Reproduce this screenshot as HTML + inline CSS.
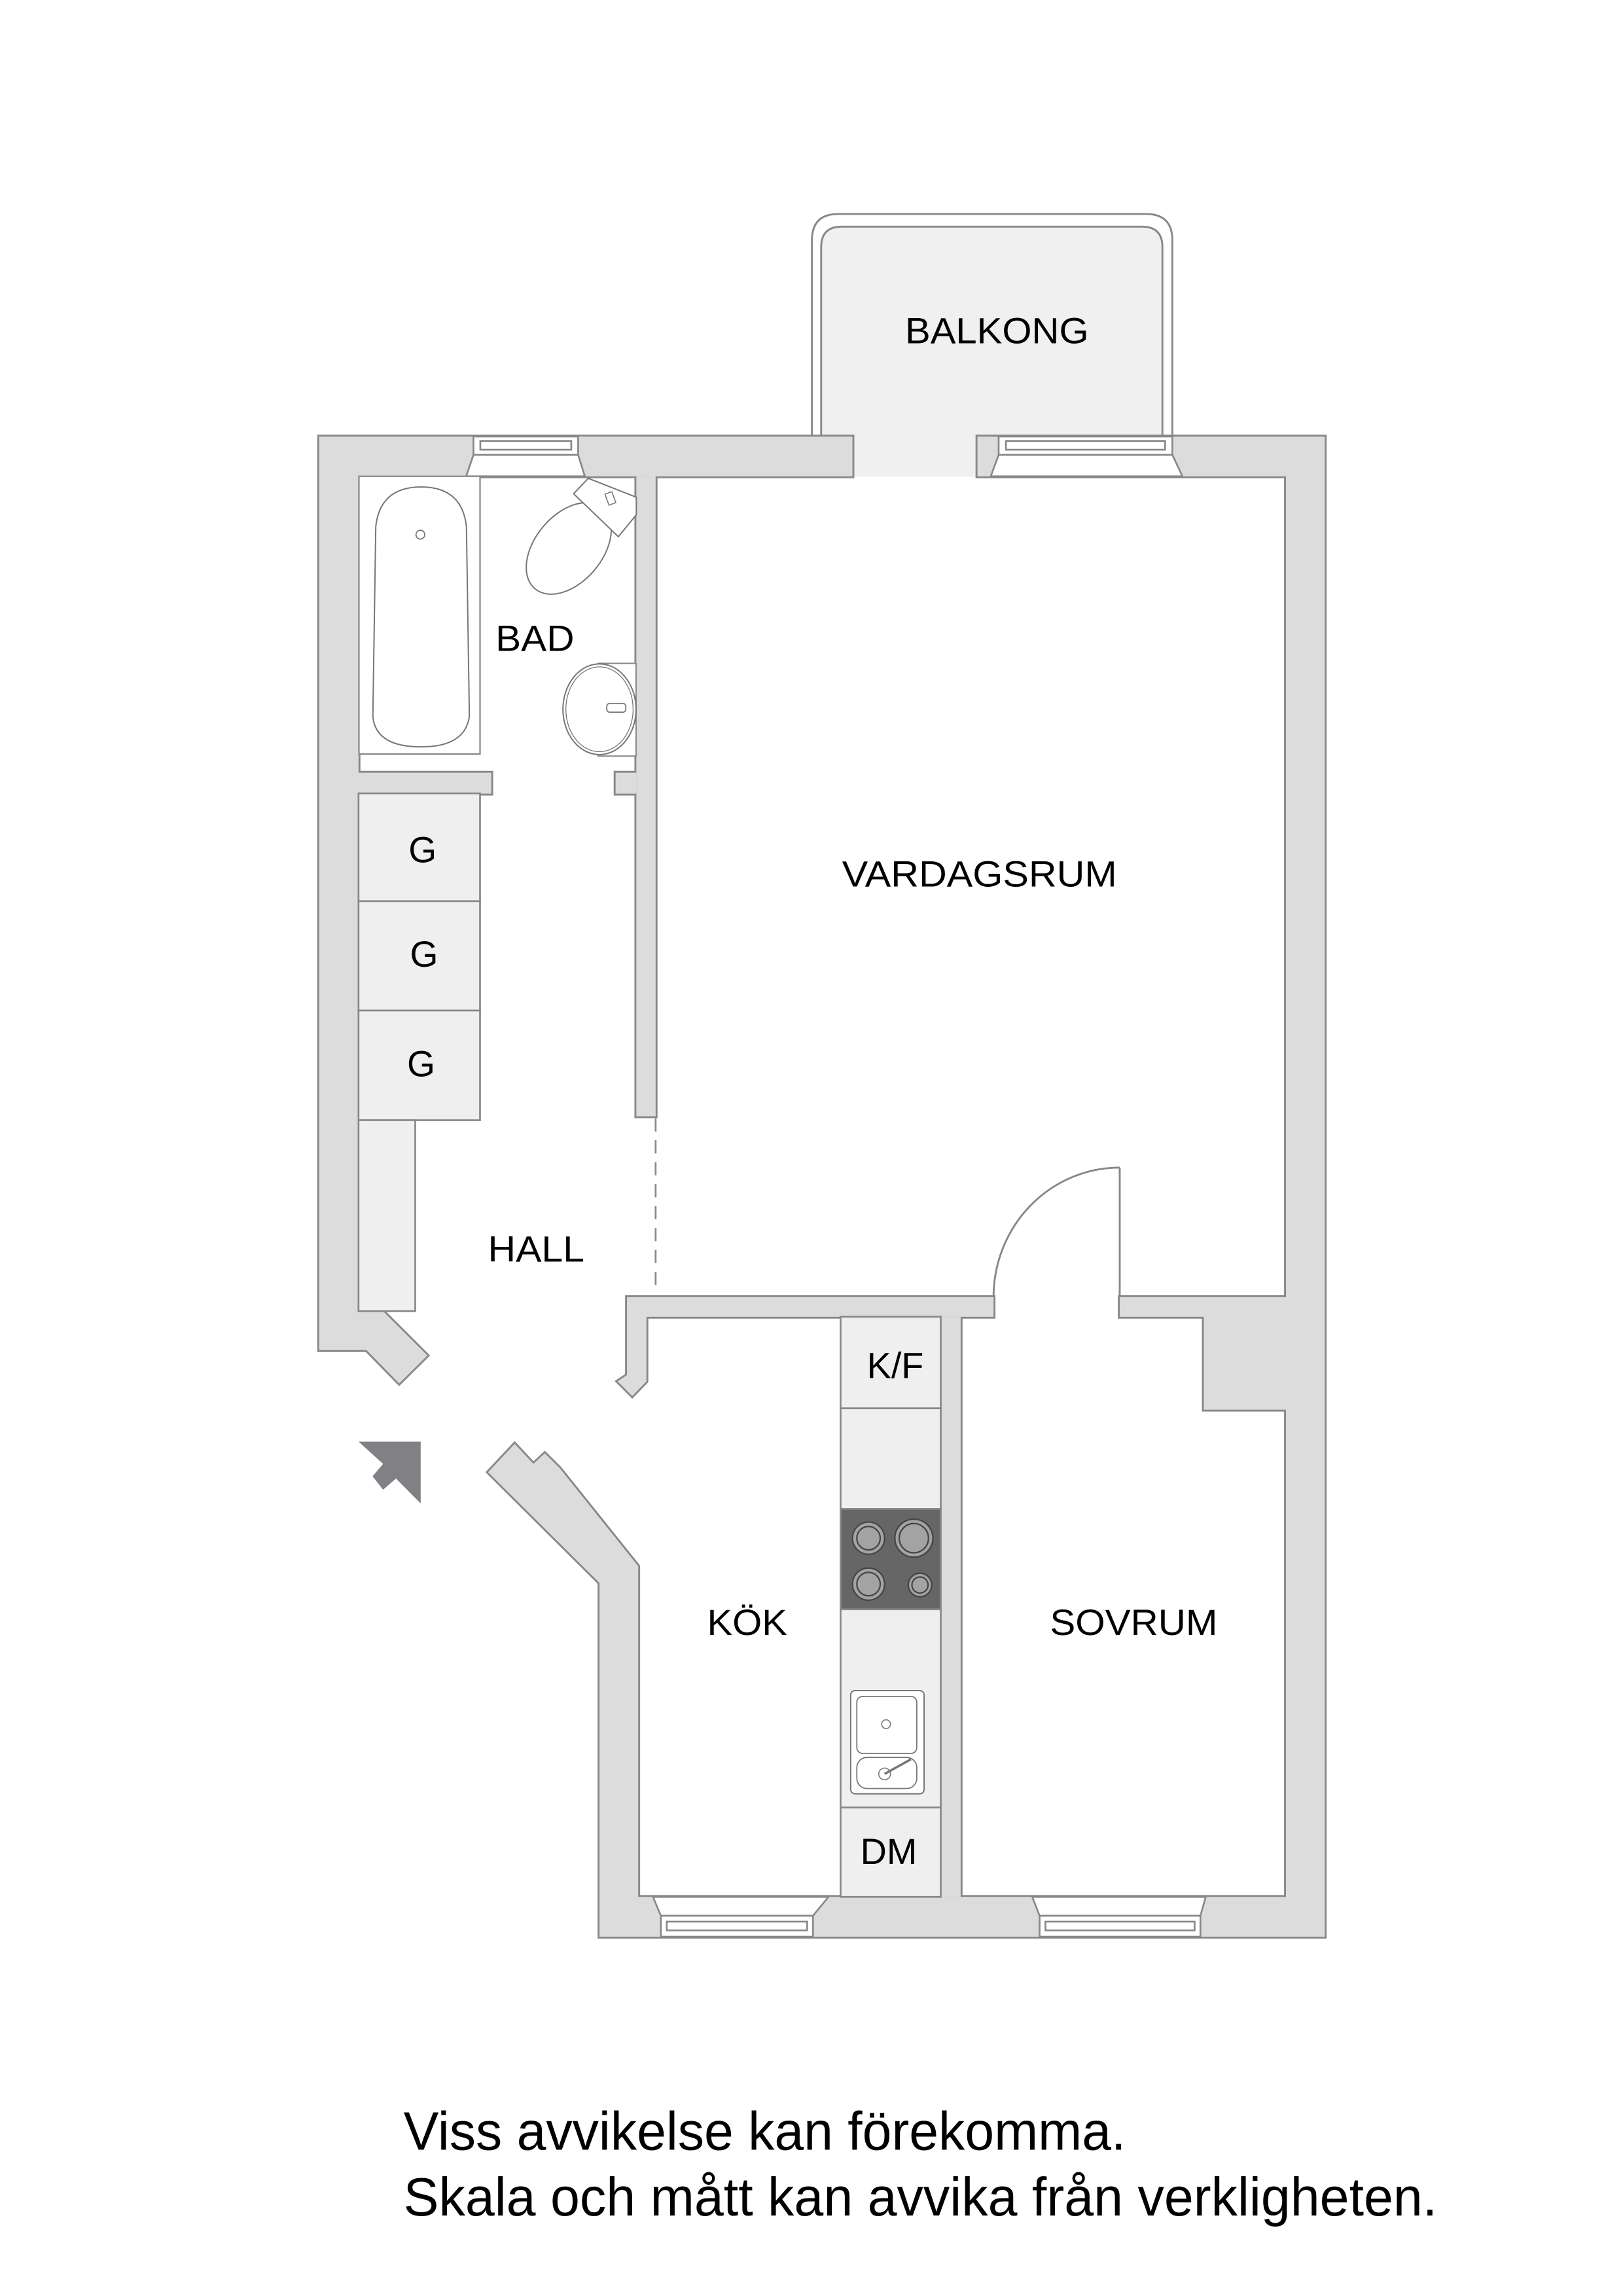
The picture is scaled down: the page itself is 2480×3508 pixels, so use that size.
<!DOCTYPE html>
<html><head><meta charset="utf-8"><style>html,body{margin:0;padding:0;background:#fff}svg{display:block}</style></head>
<body>
<svg width="2480" height="3508" viewBox="0 0 1110 1570" preserveAspectRatio="none" xmlns="http://www.w3.org/2000/svg" font-family="Liberation Sans, Arial, sans-serif">
<rect width="1110" height="1570" fill="#fff"/>
<!-- balcony -->
<path d="M555.3,298.5 V164.3 Q555.3,146.3 573.3,146.3 H783.8 Q801.8,146.3 801.8,164.3 V298.5" fill="#fff" stroke="#888" stroke-width="1.3"/>
<path d="M561.6,298.5 V169 Q561.6,155 575.6,155 H781 Q795,155 795,169 V298.5 Z" fill="#f0f0f0" stroke="#888" stroke-width="1.3"/>
<rect x="583" y="297" width="86" height="29" fill="#f0f0f0"/>
<g id="walls">
<g fill="#dcdcdc" stroke="#888" stroke-width="2.6" stroke-linejoin="miter">
<polygon points="218.3,298.5 583,298.5 583,325.7 245.2,325.7 245.2,896.6 262,896.6 292.3,926.9 273,946 250.7,923.2 218.3,923.2"/>
<polygon points="668.5,298.5 906,298.5 906,1324.3 410,1324.3 410,1082.4 333.8,1006.7 352,987.3 364.8,1001 372.6,993.8 382.7,1003.8 436.5,1071 436.5,1297.1 879.5,1297.1 879.5,325.7 668.5,325.7"/>
<rect x="435.2" y="325.7" width="13.2" height="437.6"/>
<rect x="421" y="528.4" width="14.2" height="14.3"/>
<rect x="245" y="528.4" width="91" height="14.3"/>
<polygon points="428.8,887 679.5,887 679.5,900.4 442.1,900.4 442.1,944.6 432.4,954.6 422.4,944.6 428.8,940.3"/>
<polygon points="765.8,887 879.5,887 879.5,963.9 823.3,963.9 823.3,900.4 765.8,900.4"/>
<rect x="643.4" y="900.4" width="13.6" height="396.7"/>
</g>
<g fill="#dcdcdc" stroke="none">
<polygon points="218.3,298.5 583,298.5 583,325.7 245.2,325.7 245.2,896.6 262,896.6 292.3,926.9 273,946 250.7,923.2 218.3,923.2"/>
<polygon points="668.5,298.5 906,298.5 906,1324.3 410,1324.3 410,1082.4 333.8,1006.7 352,987.3 364.8,1001 372.6,993.8 382.7,1003.8 436.5,1071 436.5,1297.1 879.5,1297.1 879.5,325.7 668.5,325.7"/>
<rect x="435.2" y="325.7" width="13.2" height="437.6"/>
<rect x="421" y="528.4" width="14.2" height="14.3"/>
<rect x="245" y="528.4" width="91" height="14.3"/>
<polygon points="428.8,887 679.5,887 679.5,900.4 442.1,900.4 442.1,944.6 432.4,954.6 422.4,944.6 428.8,940.3"/>
<polygon points="765.8,887 879.5,887 879.5,963.9 823.3,963.9 823.3,900.4 765.8,900.4"/>
<rect x="643.4" y="900.4" width="13.6" height="396.7"/>
</g>
</g>
<!-- windows -->
<g fill="#fff" stroke="#888" stroke-width="1.2">
<polygon points="323.8,311 395.4,311 400,325.7 318.8,325.7"/>
<rect x="323.8" y="298.5" width="71.6" height="12.5"/>
<rect x="328.5" y="301.5" width="62.2" height="6"/>
<polygon points="683,311 801.8,311 808.7,325.7 677.6,325.7"/>
<rect x="683" y="298.5" width="118.8" height="12.5"/>
<rect x="688" y="301.5" width="108.8" height="6"/>
<polygon points="446.6,1297.1 566.6,1297.1 556,1310 452,1310"/>
<rect x="452" y="1310" width="104" height="14.3"/>
<rect x="456" y="1314" width="96" height="6"/>
<polygon points="706,1297.1 824.6,1297.1 821,1310 711,1310"/>
<rect x="711" y="1310" width="110" height="14.3"/>
<rect x="715" y="1314" width="102" height="6"/>
</g>
<!-- door -->
<line x1="765.8" y1="798.4" x2="765.8" y2="887" stroke="#888" stroke-width="1.3"/>
<path d="M765.8,798.4 A86.3 88.6 0 0 0 679.5,887" fill="none" stroke="#888" stroke-width="1.3"/>
<line x1="448.4" y1="764.7" x2="448.4" y2="880.4" stroke="#888" stroke-width="1.2" stroke-dasharray="9 6"/>
<!-- bathroom -->
<rect x="245.5" y="325.7" width="82.8" height="189.9" fill="#fff" stroke="#888" stroke-width="1"/>
<path d="M255,490 L257,360 Q260,333 288,333 Q316,333 319,360 L321,490 Q318,510.7 288,510.7 Q257,510.7 255,490 Z" fill="#fff" stroke="#777" stroke-width="0.9"/>
<circle cx="287.5" cy="365.6" r="3" fill="none" stroke="#777" stroke-width="0.8"/>
<ellipse cx="389" cy="375" rx="23" ry="36" transform="rotate(40 389 375)" fill="#fff" stroke="#777" stroke-width="0.9"/>
<polygon points="402.3,327.1 435.2,340 435.2,352 422.9,367 392.3,337.6" fill="#fff" stroke="#777" stroke-width="0.9"/>
<rect x="415" y="337" width="5" height="8" fill="none" stroke="#777" stroke-width="0.7" transform="rotate(-20 417 341)"/>
<rect x="409" y="453.6" width="26" height="63.4" fill="#fff" stroke="#888" stroke-width="0.9"/>
<ellipse cx="410" cy="485" rx="25" ry="31" fill="#fff" stroke="#777" stroke-width="0.9"/>
<ellipse cx="410" cy="485" rx="23" ry="29" fill="none" stroke="#777" stroke-width="0.6"/>
<rect x="415" y="481" width="13" height="6" rx="2" fill="#fff" stroke="#777" stroke-width="0.8"/>
<!-- closets -->
<g fill="#efefef" stroke="#888" stroke-width="1.2">
<rect x="245.2" y="542.5" width="83.1" height="73.7"/>
<rect x="245.2" y="616.2" width="83.1" height="74.8"/>
<rect x="245.2" y="691" width="83.1" height="75"/>
<rect x="245.2" y="766" width="38.8" height="130.6"/>
<rect x="574.9" y="900.4" width="68.5" height="62.6"/>
<rect x="574.9" y="963" width="68.5" height="68.8"/>
<rect x="574.9" y="1100.4" width="68.5" height="135.6"/>
<rect x="574.9" y="1236" width="68.5" height="61.1"/>
</g>
<rect x="574.9" y="1031.8" width="68.5" height="68.6" fill="#666" stroke="#888" stroke-width="1.2"/>
<g fill="#a3a3a3" stroke="#444" stroke-width="1">
<circle cx="594" cy="1051.8" r="11"/><circle cx="594" cy="1051.8" r="8" fill="none"/>
<circle cx="625" cy="1051.8" r="13"/><circle cx="625" cy="1051.8" r="10" fill="none"/>
<circle cx="594" cy="1083.2" r="11"/><circle cx="594" cy="1083.2" r="8" fill="none"/>
<circle cx="629.2" cy="1083.8" r="8"/><circle cx="629.2" cy="1083.8" r="5.5" fill="none"/>
</g>
<rect x="581.8" y="1156" width="50.2" height="70.6" rx="3" fill="#fff" stroke="#777" stroke-width="0.9"/>
<rect x="586" y="1160" width="41" height="39" rx="4" fill="#fff" stroke="#777" stroke-width="0.8"/>
<rect x="586" y="1201.7" width="41" height="21.3" rx="7" fill="#fff" stroke="#777" stroke-width="0.8"/>
<circle cx="606" cy="1179" r="3" fill="none" stroke="#777" stroke-width="0.7"/>
<circle cx="605" cy="1213" r="4" fill="none" stroke="#777" stroke-width="0.7"/>
<line x1="605" y1="1213" x2="623" y2="1203" stroke="#777" stroke-width="1.6"/>
<!-- entrance arrow -->
<polygon points="245.2,985.8 287.7,985.8 287.7,1028.1 270.8,1011 262,1018.7 254.8,1009.5 262,1001" fill="#808085"/>
<!-- labels -->
<g font-size="24.7" fill="#000" text-anchor="middle" lengthAdjust="spacingAndGlyphs">
<text x="681.8" y="234.8" textLength="125.6" lengthAdjust="spacingAndGlyphs">BALKONG</text>
<text x="365.8" y="445" textLength="53.9" lengthAdjust="spacingAndGlyphs">BAD</text>
<text x="669.9" y="606.2" textLength="188" lengthAdjust="spacingAndGlyphs">VARDAGSRUM</text>
<text x="366.7" y="862.6" textLength="66" lengthAdjust="spacingAndGlyphs">HALL</text>
<text x="289" y="589.6">G</text>
<text x="290" y="661">G</text>
<text x="288" y="736.1">G</text>
<text x="511" y="1118" textLength="54.8" lengthAdjust="spacingAndGlyphs">KÖK</text>
<text x="775.4" y="1118" textLength="114.6" lengthAdjust="spacingAndGlyphs">SOVRUM</text>
<text x="612.3" y="942.4" textLength="38.8" lengthAdjust="spacingAndGlyphs">K/F</text>
<text x="607.8" y="1274.6" textLength="38.8" lengthAdjust="spacingAndGlyphs">DM</text>
</g>
<g font-size="37" fill="#000">
<text x="276" y="1470" textLength="494" lengthAdjust="spacingAndGlyphs">Viss avvikelse kan förekomma.</text>
<text x="276" y="1515" textLength="707" lengthAdjust="spacingAndGlyphs">Skala och mått kan avvika från verkligheten.</text>
</g>
</svg>
</body></html>
